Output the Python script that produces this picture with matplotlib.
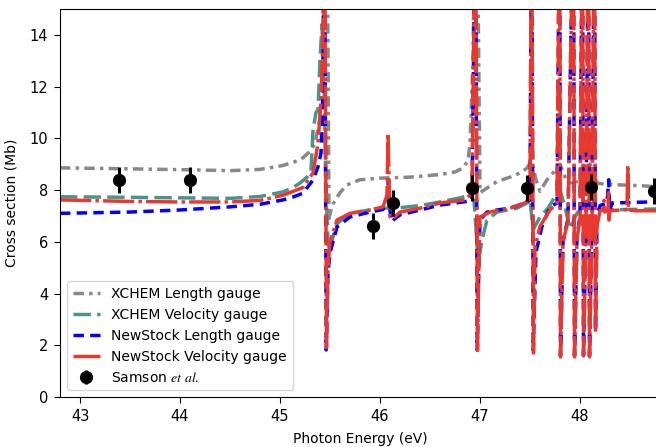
import matplotlib
matplotlib.use("Agg")
import matplotlib.pyplot as plt

plt.rcParams['mathtext.fontset'] = 'stix'

# -------------------------------
# Data
# -------------------------------
# XCHEM length gauge
gx = [42.8, 43.5, 44.0, 44.5, 44.8, 45.03, 45.15, 45.23, 45.3, 45.35, 45.4, 45.43,
      45.445, 45.47, 45.49, 45.52, 45.6, 45.67, 45.8, 46.0, 46.3, 46.6, 46.75, 46.83,
      46.88, 46.9, 46.93, 46.95, 46.97, 47.0, 47.17, 47.3, 47.4, 47.47, 47.5, 47.52,
      47.56, 47.6, 47.67, 47.75, 47.8, 47.83, 47.87, 47.9, 48.0, 48.07, 48.1, 48.12,
      48.15, 48.17, 48.2, 48.4, 48.6, 48.8]
gy = [8.86, 8.82, 8.79, 8.75, 8.8, 8.95, 9.1, 9.25, 9.5, 9.8, 10.8, 13.0,
      20.0, 20.0, 6.9, 7.4, 7.9, 8.2, 8.4, 8.46, 8.5, 8.6, 8.7, 8.85,
      9.15, 9.8, 13.0, 20.0, 20.0, 7.9, 8.33, 8.5, 8.66, 8.85, 9.05, 9.1,
      8.4, 7.95, 8.4, 8.75, 9.0, 8.7, 8.3, 8.27, 8.35, 8.7, 9.0, 8.85,
      8.5, 8.28, 8.25, 8.2, 8.17, 8.12]

# XCHEM velocity gauge
tx = [42.8, 43.5, 44.0, 44.5, 44.8, 45.03, 45.13, 45.2, 45.27, 45.31, 45.33, 45.36,
      45.38, 45.4, 45.42, 45.44, 45.46, 45.48, 45.5, 45.53, 45.57, 45.7, 45.9, 46.03,
      46.2, 46.4, 46.6, 46.8, 46.9, 46.94, 46.96, 46.98, 47.0, 47.02, 47.07, 47.17,
      47.37, 47.47, 47.5, 47.53, 47.6, 47.68, 47.77, 47.8, 47.85, 47.9, 47.97, 48.05,
      48.12, 48.17, 48.2, 48.5, 48.8]
ty = [7.74, 7.72, 7.7, 7.68, 7.75, 7.93, 8.1, 8.27, 8.5, 8.7, 10.3, 11.0,
      11.1, 13.0, 14.4, 12.0, 8.0, 6.0, 5.6, 6.2, 6.7, 7.1, 7.23, 7.3,
      7.32, 7.4, 7.54, 7.7, 7.8, 7.6, 6.5, 5.2, 5.6, 6.07, 6.84, 7.15,
      7.3, 7.5, 7.65, 6.46, 6.96, 7.3, 7.88, 8.0, 7.35, 6.5, 7.1, 7.5,
      7.7, 7.35, 7.23, 7.25, 7.27]

# NewStock length gauge
bx = [42.8, 43.5, 44.0, 44.5, 44.8, 45.03, 45.13, 45.23, 45.33, 45.38, 45.41, 45.43,
      45.445, 45.462, 45.48, 45.5, 45.57, 45.7, 45.9, 46.03, 46.07, 46.085, 46.1, 46.12,
      46.15, 46.2, 46.4, 46.6, 46.85, 46.92, 46.955, 46.972, 46.99, 47.0, 47.07, 47.17,
      47.3, 47.45, 47.5, 47.517, 47.532, 47.56, 47.62, 47.7, 47.77, 47.797, 47.805, 47.83,
      47.88, 47.935, 47.945, 47.97, 48.0, 48.025, 48.035, 48.06, 48.085, 48.095, 48.12, 48.145,
      48.155, 48.17, 48.2, 48.27, 48.287, 48.297, 48.32, 48.5, 48.8]
by = [7.1, 7.15, 7.23, 7.35, 7.45, 7.62, 7.73, 7.88, 8.39, 8.9, 9.43, 12.0,
      20.0, 1.82, 4.8, 5.57, 6.57, 6.96, 7.15, 7.25, 7.6, 8.4, 7.2, 6.77,
      6.9, 7.04, 7.23, 7.42, 7.55, 7.62, 20.0, 1.82, 5.4, 6.84, 7.15, 7.23,
      7.3, 7.5, 7.62, 20.0, 1.82, 5.6, 6.6, 7.35, 7.5, 20.0, 1.6, 6.0,
      6.9, 20.0, 1.6, 6.2, 7.0, 20.0, 1.6, 6.7, 20.0, 1.6, 6.8, 20.0,
      2.6, 6.9, 7.4, 7.5, 8.4, 7.2, 7.5, 7.52, 7.55]

# NewStock velocity gauge
rx = [42.8, 43.5, 44.0, 44.5, 44.8, 45.03, 45.13, 45.23, 45.33, 45.38, 45.41, 45.43,
      45.445, 45.465, 45.48, 45.5, 45.57, 45.7, 45.9, 46.03, 46.07, 46.08, 46.09, 46.1,
      46.13, 46.2, 46.4, 46.6, 46.85, 46.92, 46.955, 46.975, 46.99, 47.0, 47.1, 47.3,
      47.45, 47.5, 47.515, 47.535, 47.55, 47.6, 47.7, 47.77, 47.797, 47.805, 47.83, 47.88,
      47.935, 47.945, 47.97, 48.0, 48.025, 48.035, 48.06, 48.085, 48.095, 48.12, 48.145, 48.155,
      48.17, 48.2, 48.235, 48.24, 48.245, 48.28, 48.285, 48.29, 48.3, 48.47, 48.478, 48.485,
      48.55, 48.8]
ry = [7.62, 7.56, 7.54, 7.54, 7.6, 7.8, 7.95, 8.1, 8.66, 9.8, 11.5, 14.0,
      20.0, 1.9, 5.0, 6.0, 6.84, 7.1, 7.23, 7.35, 7.8, 10.2, 8.5, 6.96,
      6.9, 7.15, 7.3, 7.5, 7.62, 7.9, 20.0, 1.8, 5.5, 6.96, 7.15, 7.3,
      7.5, 7.7, 20.0, 1.7, 5.8, 6.6, 7.23, 7.5, 20.0, 1.55, 6.0, 6.8,
      20.0, 1.55, 6.1, 6.9, 20.0, 1.6, 6.6, 20.0, 1.55, 6.7, 20.0, 2.5,
      6.6, 7.2, 7.25, 7.6, 7.15, 7.2, 7.9, 6.84, 7.2, 7.25, 8.97, 7.23,
      7.2, 7.2]

# Samson et al. measurements
sx = [43.39, 44.1, 45.93, 46.13, 46.92, 47.47, 48.11, 48.74]
sy = [8.39, 8.39, 6.62, 7.5, 8.08, 8.08, 8.12, 7.95]
serr = [0.5, 0.5, 0.5, 0.5, 0.5, 0.5, 0.5, 0.5]

# -------------------------------
# Plot
# -------------------------------
fig = plt.figure(figsize=(6.56, 4.47), dpi=100)
ax = fig.add_axes([60 / 656, 50 / 447, 600 / 656, 388 / 447])

lw = 2.5
ax.plot(gx, gy, color='#888888', lw=lw, dashes=(3, 1.5, 1, 1.5), label='XCHEM Length gauge')
ax.plot(tx, ty, color='#4a948e', lw=lw, dashes=(5, 1.8), label='XCHEM Velocity gauge')
ax.plot(bx, by, color='#0000ff', lw=lw, dashes=(3, 1.8), label='NewStock Length gauge')
ax.plot(rx, ry, color='#e8392e', lw=lw, dashes=(9, 1.2, 1, 1.2), label='NewStock Velocity gauge')
ax.errorbar(sx, sy, yerr=serr, fmt='o', color='black', ms=8.5, elinewidth=2.2,
            capsize=0, label=r'Samson $\mathit{et\ al.}$', zorder=5)

ax.set_xlim(42.8, 48.8)
ax.set_ylim(0, 15)
ax.set_xticks([43, 44, 45, 46, 47, 48])
ax.set_yticks([0, 2, 4, 6, 8, 10, 12, 14])
ax.tick_params(labelsize=10.5, length=4.5, pad=4)
ax.set_xlabel('Photon Energy (eV)', fontsize=10, labelpad=6)
ax.set_ylabel('Cross section (Mb)', fontsize=10, labelpad=8)
ax.legend(loc='lower left', fontsize=10)

fig.savefig('out.png', dpi=100)
